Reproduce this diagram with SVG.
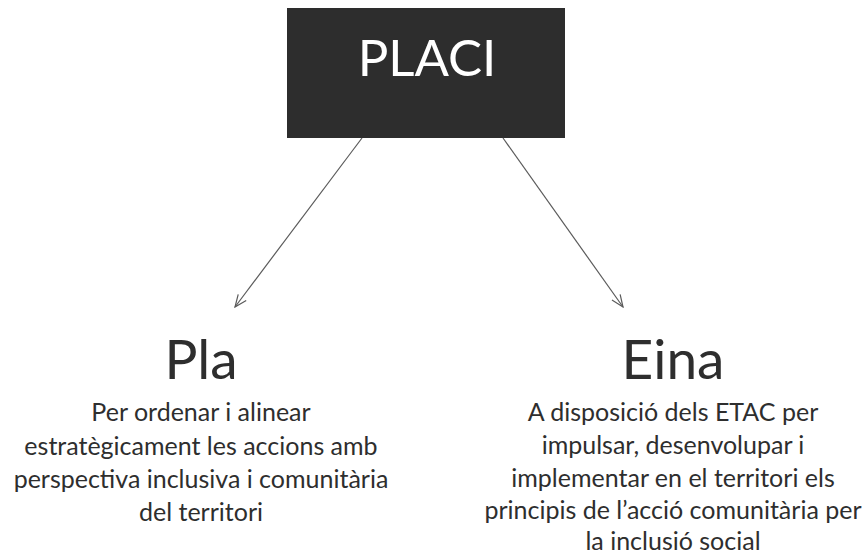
<svg xmlns="http://www.w3.org/2000/svg" width="867" height="556" viewBox="0 0 867 556">
<defs>
<style>
.t{font-family:Lato,"Open Sans","Liberation Sans",sans-serif;fill:#2e2e2e;text-anchor:middle}
.title{font-size:55px}
.body{font-size:25px}
.conn{stroke:#5a5a5a;stroke-width:1.2;fill:none}
</style>
<marker id="arr" viewBox="0 0 14 12" refX="13" refY="6" markerWidth="14" markerHeight="12" markerUnits="userSpaceOnUse" orient="auto">
<path d="M1,1 L13,6 L1,11" fill="none" stroke="#5a5a5a" stroke-width="1.2"/>
</marker>
</defs>
<rect width="867" height="556" fill="#ffffff"/>
<g id="placi">
<rect x="287" y="8" width="278" height="130" fill="#2d2d2d"/>
<text class="t" x="427" y="76" font-size="51" style="fill:#ffffff">PLACI</text>
</g>
<g id="connectors">
<line class="conn" x1="362" y1="138" x2="235" y2="307" marker-end="url(#arr)"/>
<line class="conn" x1="503" y1="138" x2="623" y2="307" marker-end="url(#arr)"/>
</g>
<g id="pla">
<text class="t title" x="201" y="379">Pla</text>
<text class="t body" x="201" y="421">Per ordenar i alinear</text>
<text class="t body" x="201" y="455">estratègicament les accions amb</text>
<text class="t body" x="201" y="488">perspectiva inclusiva i comunitària</text>
<text class="t body" x="201" y="521">del territori</text>
</g>
<g id="eina">
<text class="t title" x="673" y="379">Eina</text>
<text class="t body" x="673" y="421">A disposició dels ETAC per</text>
<text class="t body" x="673" y="454">impulsar, desenvolupar i</text>
<text class="t body" x="673" y="487">implementar en el territori els</text>
<text class="t body" x="673" y="519">principis de l’acció comunitària per</text>
<text class="t body" x="673" y="550">la inclusió social</text>
</g>
</svg>
